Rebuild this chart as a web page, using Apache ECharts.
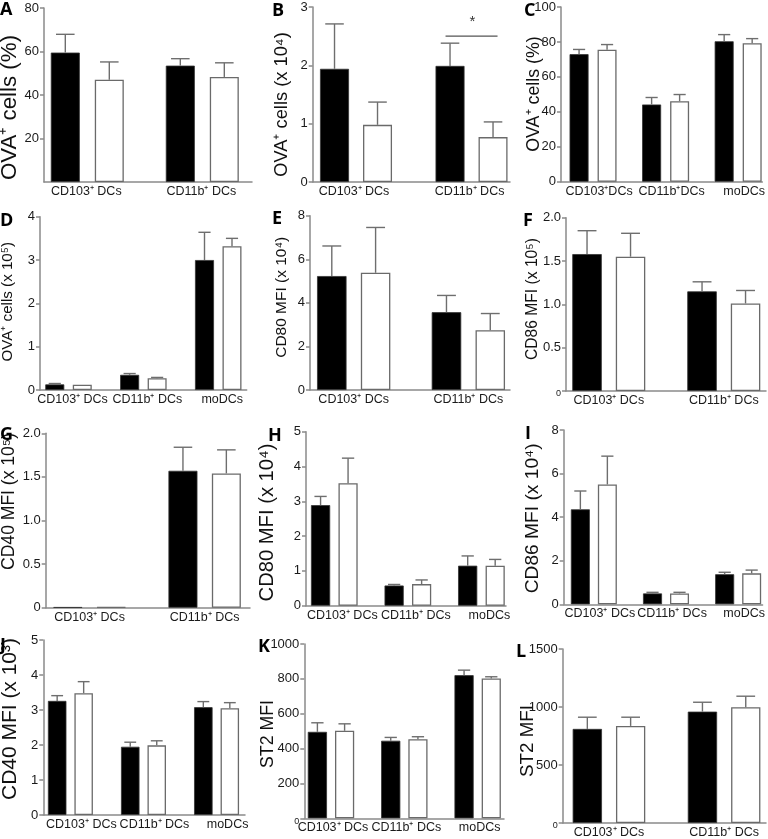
<!DOCTYPE html>
<html>
<head>
<meta charset="utf-8">
<script src="https://cdn.jsdelivr.net/npm/echarts@6/dist/echarts.min.js"></script>
<style>html,body{margin:0;padding:0;background:#fff}#c{width:768px;height:839px}</style>
</head>
<body>
<div id="c"></div>
<script>
// ---------- categories ----------
const cats2 = ['CD103⁺ DCs', 'CD11b⁺ DCs'];
const cats3 = ['CD103⁺ DCs', 'CD11b⁺ DCs', 'moDCs'];
const catsC = ['CD103⁺DCs', 'CD11b⁺DCs', 'moDCs'];

// ---------- values (mean) and upper end of error bar ----------
const A_black = [59.5, 53.5],  A_blackUp = [67.9, 56.7];
const A_white = [47.0, 48.3],  A_whiteUp = [55.2, 54.8];
const B_black = [1.94, 1.99],  B_blackUp = [2.71, 2.38];
const B_white = [0.98, 0.77],  B_whiteUp = [1.37, 1.03];
const C_black = [73.0, 44.2, 80.4], C_blackUp = [75.7, 48.2, 84.2];
const C_white = [75.6, 46.1, 79.3], C_whiteUp = [78.5, 49.9, 81.9];
const D_black = [0.13, 0.35, 3.00], D_blackUp = [0.15, 0.38, 3.64];
const D_white = [0.12, 0.27, 3.32], D_whiteUp = [0.13, 0.29, 3.50];
const E_black = [5.23, 3.57],  E_blackUp = [6.61, 4.34];
const E_white = [5.38, 2.74],  E_whiteUp = [7.46, 3.51];
const F_black = [1.58, 1.15],  F_blackUp = [1.85, 1.26];
const F_white = [1.55, 1.01],  F_whiteUp = [1.82, 1.16];
const G_black = [0.006, 1.57], G_blackUp = [0.006, 1.84];
const G_white = [0.006, 1.54], G_whiteUp = [0.006, 1.81];
const H_black = [2.89, 0.58, 1.15], H_blackUp = [3.14, 0.61, 1.43];
const H_white = [3.52, 0.62, 1.15], H_whiteUp = [4.24, 0.74, 1.33];
const I_black = [4.36, 0.50, 1.38], I_blackUp = [5.20, 0.55, 1.47];
const I_white = [5.50, 0.50, 1.42], I_whiteUp = [6.80, 0.55, 1.57];
const J_black = [3.26, 1.95, 3.08], J_blackUp = [3.41, 2.08, 3.24];
const J_white = [3.48, 1.99, 3.05], J_whiteUp = [3.81, 2.12, 3.21];
const K_black = [496, 445, 821], K_blackUp = [548, 464, 850];
const K_white = [502, 454, 802], K_whiteUp = [542, 468, 812];
const L_black = [811, 960],    L_blackUp = [912, 1041];
const L_white = [837, 998],    L_whiteUp = [912, 1093];

// ---------- axis titles ----------
const titles = {
  A: 'OVA⁺ cells (%)', B: 'OVA⁺ cells (x 10⁴)', C: 'OVA⁺ cells (%)',
  D: 'OVA⁺ cells (x 10⁵)', E: 'CD80 MFI (x 10⁴)', F: 'CD86 MFI (x 10⁵)',
  G: 'CD40 MFI (x 10⁵)', H: 'CD80 MFI (x 10⁴)', I: 'CD86 MFI (x 10⁴)',
  J: 'CD40 MFI (x 10³)', K: 'ST2 MFI', L: 'ST2 MFI'
};
// significance marker in panel B (category 2, y level)
const B_sig = [[2, 2.5, '*']];

// ---------- panel layout ----------
const panels = [
  {id:'A', left:44,    top:8,     w:208,   h:174,   ymax:80,   int:20,  xmin:0.6235, xmax:2.432, bw:29,   gap:15,  cats:cats2, k:[A_black,A_blackUp,A_white,A_whiteUp], noZero:true, t:[9.5,107.5,145], ls:-1, lx:0,   ly:1},
  {id:'B', left:312.7, top:7,     w:197.3, h:175,   ymax:3,    int:1,   xmin:0.625,  xmax:2.333, bw:29,   gap:14,  cats:cats2, k:[B_black,B_blackUp,B_white,B_whiteUp], t:[281.7,104.5,145], ls:-2, lx:272, ly:2},
  {id:'C', left:561,   top:7,     w:204,   h:174.7, ymax:100,  int:20,  xmin:0.558,  xmax:3.333, bw:19,   gap:9,   cats:catsC, k:[C_black,C_blackUp,C_white,C_whiteUp], t:[534.5,94,116], ls:6, lx:524, ly:2},
  {id:'D', left:40,    top:216.7, w:206.7, h:173.3, ymax:4,    int:1,   xmin:0.619,  xmax:3.38,  bw:19,   gap:8.5, cats:cats3, k:[D_black,D_blackUp,D_white,D_whiteUp], t:[8.3,301.7,120], ls:4, lx:0,   ly:212},
  {id:'E', left:310,   top:215.7, w:200,   h:174.3, ymax:8,    int:2,   xmin:0.619,  xmax:2.363, bw:29.5, gap:14.3,cats:cats2, k:[E_black,E_blackUp,E_white,E_whiteUp], t:[281.5,297.3,121], ls:0, lx:272, ly:210},
  {id:'F', left:566,   top:217.7, w:200,   h:173.3, ymax:2,    int:0.5, xmin:0.628,  xmax:2.367, bw:29.5, gap:14,  cats:cats2, k:[F_black,F_blackUp,F_white,F_whiteUp], t:[532.5,299,122], ls:0, lx:523, ly:212, dec:true, smallZero:true},
  {id:'G', left:45.7,  top:433.3, w:204.3, h:174.4, ymax:2,    int:0.5, xmin:0.619,  xmax:2.394, bw:29,   gap:14.4,cats:cats2, k:[G_black,G_blackUp,G_white,G_whiteUp], t:[9.2,501.5,137], ls:0, lx:0,   ly:426, dec:true},
  {id:'H', left:306,   top:431.7, w:200,   h:174,   ymax:5,    int:1,   xmin:0.615,  xmax:3.334, bw:19.2, gap:8.3, cats:cats3, k:[H_black,H_blackUp,H_white,H_whiteUp], t:[267.5,522.5,158], ls:8, lx:268, ly:427},
  {id:'I', left:563.7, top:430,   w:201.3, h:174.3, ymax:8,    int:2,   xmin:0.582,  xmax:3.338, bw:19,   gap:8,   cats:cats3, k:[I_black,I_blackUp,I_white,I_whiteUp], t:[532.5,518.3,150], ls:6, lx:525, ly:425},
  {id:'J', left:43.3,  top:640,   w:201.7, h:175,   ymax:5,    int:1,   xmin:0.629,  xmax:3.389, bw:18.5, gap:8,   cats:cats3, k:[J_black,J_blackUp,J_white,J_whiteUp], t:[10,719,162], ls:11, lx:0,   ly:637},
  {id:'K', left:304.3, top:644,   w:199.7, h:174.3, ymax:1000, int:200, xmin:0.636,  xmax:3.359, bw:19.2, gap:8,   cats:cats3, k:[K_black,K_blackUp,K_white,K_whiteUp], t:[268.5,734,68], ls:2, lx:258, ly:638, smallZero:true},
  {id:'L', left:562.7, top:649,   w:203.3, h:174.3, ymax:1500, int:500, xmin:0.598,  xmax:2.364, bw:29.3, gap:14,  cats:cats2, k:[L_black,L_blackUp,L_white,L_whiteUp], t:[527.5,741,72], ls:0, lx:516, ly:643, smallZero:true}
];

const FONT_NAME = 'Liberation Sans';
const FONT = '"Liberation Sans", Arial, sans-serif';
const TICK_FONT = '"Liberation Sans Narrow", "Liberation Sans", Arial, sans-serif';
const AXIS = {color:'#8a8a8a', width:1.5};
const ERR = '#6e6e6e';

// font size that gives a title its measured length
const mctx = document.createElement('canvas').getContext('2d');
function fitSize(text, len) {
  mctx.font = '20px "' + FONT_NAME + '", Arial, sans-serif';
  return 20 * len / mctx.measureText(text).width;
}

const grid = [], xAxis = [], yAxis = [], series = [], graphic = [];

function errSeries(i, p, vals, ups, sign) {
  const off = sign * (p.bw + p.gap) / 2;
  const cap = p.bw * 0.32;
  return {
    type: 'custom', xAxisIndex: i, yAxisIndex: i, z: 5, silent: true,
    data: vals.map((v, j) => [j + 1, v, ups[j]]),
    encode: {x: 0, y: [1, 2]},
    renderItem: function (params, api) {
      const a = api.coord([api.value(0), api.value(1)]);
      const b = api.coord([api.value(0), api.value(2)]);
      const x = a[0] + off;
      if (Math.abs(a[1] - b[1]) < 0.5) return {type: 'group', children: []};
      return {type: 'group', children: [
        {type: 'line', shape: {x1: x, y1: a[1], x2: x, y2: b[1]}, style: {stroke: ERR, lineWidth: 1.4}},
        {type: 'line', shape: {x1: x - cap, y1: b[1], x2: x + cap, y2: b[1]}, style: {stroke: ERR, lineWidth: 1.4}}
      ]};
    }
  };
}

panels.forEach((p, i) => {
  grid.push({left: p.left, top: p.top, width: p.w, height: p.h});
  xAxis.push({
    gridIndex: i, type: 'value', min: p.xmin, max: p.xmax,
    axisLine: {show: true, onZero: false, lineStyle: AXIS},
    axisTick: {show: false}, splitLine: {show: false},
    axisLabel: {
      customValues: p.cats.map((c, j) => j + 1),
      formatter: v => p.cats[Math.round(v) - 1] || '',
      margin: 3, fontSize: 12.5, color: '#1a1a1a', fontFamily: FONT,
      padding: p.ls >= 0 ? [0, 0, 0, 2 * p.ls] : [0, -2 * p.ls, 0, 0]
    }
  });
  yAxis.push({
    gridIndex: i, type: 'value', min: 0, max: p.ymax, interval: p.int,
    axisLine: {show: true, onZero: false, lineStyle: AXIS},
    axisTick: {show: true, length: 4, lineStyle: AXIS},
    splitLine: {show: false},
    axisLabel: {
      showMinLabel: !p.noZero, margin: 5, fontSize: 13, color: '#1a1a1a', fontFamily: TICK_FONT,
      formatter: v => v === 0 ? (p.smallZero ? '{s|0}' : '0') : (p.dec ? v.toFixed(1) : String(v)),
      rich: {s: {fontSize: 9, color: '#1a1a1a', fontFamily: TICK_FONT, padding: [6, 0, 0, 0]}}
    }
  });
  const [bk, bkU, wh, whU] = p.k;
  series.push({
    type: 'bar', xAxisIndex: i, yAxisIndex: i, silent: true, name: p.id + ' black',
    data: bk.map((v, j) => [j + 1, v]), barWidth: p.bw,
    barGap: (p.gap / p.bw * 100).toFixed(1) + '%',
    itemStyle: {color: '#000', borderColor: '#333', borderWidth: 0.8}
  });
  series.push({
    type: 'bar', xAxisIndex: i, yAxisIndex: i, silent: true, name: p.id + ' white',
    data: wh.map((v, j) => [j + 1, v]), barWidth: p.bw,
    barGap: (p.gap / p.bw * 100).toFixed(1) + '%',
    itemStyle: {color: '#fff', borderColor: '#6a6a6a', borderWidth: 1.3}
  });
  series.push(errSeries(i, p, bk, bkU, -1));
  series.push(errSeries(i, p, wh, whU, 1));
  // y-axis title (rotated)
  const [tx, ty, tl] = p.t;
  graphic.push({type: 'text', x: tx, y: ty, rotation: Math.PI / 2, silent: true,
    style: {text: titles[p.id], fontSize: fitSize(titles[p.id], tl), fontFamily: FONT, fill: '#111',
      align: 'center', verticalAlign: 'middle'}});
  // panel letter
  graphic.push({type: 'text', left: p.lx, top: p.ly, silent: true,
    style: {text: p.id, fontSize: 18, fontWeight: 'bold', fontFamily: '"Open Sans", "DejaVu Sans", sans-serif', fill: '#000'}});
});

// significance bar in panel B
const bIdx = panels.findIndex(p => p.id === 'B');
series.push({
  type: 'custom', xAxisIndex: bIdx, yAxisIndex: bIdx, z: 6, silent: true,
  data: B_sig, encode: {x: 0, y: 1},
  renderItem: function (params, api) {
    const c = api.coord([api.value(0), api.value(1)]);
    return {type: 'group', children: [
      {type: 'line', shape: {x1: c[0] - 26, y1: c[1], x2: c[0] + 26, y2: c[1]}, style: {stroke: '#555', lineWidth: 1.2}},
      {type: 'text', x: c[0] + 1, y: c[1] - 14, style: {text: B_sig[params.dataIndex][2], fontSize: 15, fontFamily: FONT, fill: '#333', align: 'center', verticalAlign: 'middle'}}
    ]};
  }
});

const chart = echarts.init(document.getElementById('c'), null, {renderer: 'canvas'});
chart.setOption({animation: false, grid, xAxis, yAxis, series, graphic});
</script>
</body>
</html>
